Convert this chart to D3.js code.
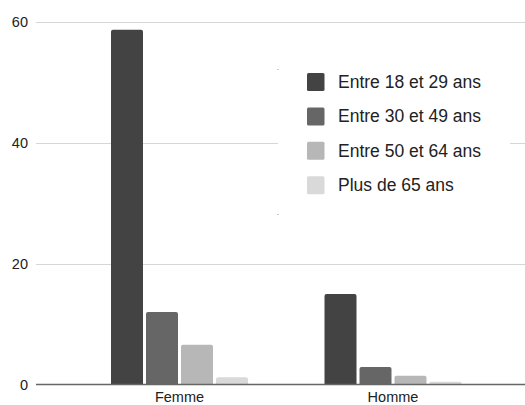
<!DOCTYPE html>
<html>
<head>
<meta charset="utf-8">
<script src="https://cdn.jsdelivr.net/npm/d3@7"></script>
<style>
  body { margin: 0; background: #fff; }
  text { font-family: "Liberation Sans", Arial, sans-serif; }
</style>
</head>
<body>
<div id="chart"></div>
<script>
// data
var groups = ["Femme", "Homme"];
var series = ["Entre 18 et 29 ans", "Entre 30 et 49 ans", "Entre 50 et 64 ans", "Plus de 65 ans"];
var femmeValues = [58.7, 12.0, 6.6, 1.2];
var hommeValues = [15.0, 2.9, 1.45, 0.45];
var yTicks = [0, 20, 40, 60];
var colors = ["#434343", "#666666", "#b7b7b7", "#d9d9d9"];

var rows = [
    {group: "Femme", values: femmeValues},
    {group: "Homme", values: hommeValues}
];

var width = 525, height = 405;

var svg = d3.select("#chart")
    .append("svg")
    .attr("width", width)
    .attr("height", height);

var y = d3.scaleLinear()
    .domain([0, 60])
    .range([384.5, 22]);

var x0 = d3.scaleBand()
    .domain(groups)
    .range([72.75, 499.75]);

var x1 = d3.scaleBand()
    .domain(series)
    .range([38.25, 175.25])
    .paddingInner(0.0857);

// gridlines
svg.append("g")
    .selectAll("line")
    .data(yTicks.filter(function(d) { return d > 0; }))
    .enter()
    .append("line")
    .attr("x1", 36)
    .attr("x2", width)
    .attr("y1", function(d) { return Math.round(y(d)) + 0.5; })
    .attr("y2", function(d) { return Math.round(y(d)) + 0.5; })
    .style("stroke", "#d6d6d6")
    .style("stroke-width", 1);

// y labels
svg.append("g")
    .selectAll("text")
    .data(yTicks)
    .enter()
    .append("text")
    .attr("x", 28)
    .attr("y", function(d) { return y(d) + 5; })
    .attr("text-anchor", "end")
    .style("font-size", "14.5px")
    .style("fill", "#222")
    .text(function(d) { return d; });

// bars
var groupsG = svg.selectAll(".grp")
    .data(rows)
    .enter()
    .append("g")
    .attr("class", "grp")
    .attr("transform", function(d) { return "translate(" + x0(d.group) + ",0)"; });

groupsG.selectAll("path")
    .data(function(d) {
        return d.values.map(function(v, i) { return {key: series[i], value: v, i: i}; });
    })
    .enter()
    .append("path")
    .attr("d", function(d) {
        var x = x1(d.key), w = x1.bandwidth();
        var top = y(d.value), bot = y(0);
        var r = Math.min(2, (bot - top) / 2);
        return "M" + x + "," + bot +
            "V" + (top + r) +
            "Q" + x + "," + top + " " + (x + r) + "," + top +
            "H" + (x + w - r) +
            "Q" + (x + w) + "," + top + " " + (x + w) + "," + (top + r) +
            "V" + bot + "Z";
    })
    .style("fill", function(d) { return colors[d.i]; });

// baseline
svg.append("line")
    .attr("x1", 36)
    .attr("x2", width)
    .attr("y1", 384.5)
    .attr("y2", 384.5)
    .style("stroke", "#666")
    .style("stroke-width", 1.5);

// x labels
svg.append("g")
    .selectAll("text")
    .data(groups)
    .enter()
    .append("text")
    .attr("x", function(d) { return x0(d) + x0.bandwidth() / 2; })
    .attr("y", 402)
    .attr("text-anchor", "middle")
    .style("font-size", "14.5px")
    .style("fill", "#222")
    .text(function(d) { return d; });

// legend box (white, hides the gridline behind it)
svg.append("rect")
    .attr("x", 278)
    .attr("y", 69)
    .attr("width", 232)
    .attr("height", 146)
    .style("fill", "#fff");

// faint corner marks
svg.selectAll(".mark")
    .data([69, 214])
    .enter()
    .append("rect")
    .attr("class", "mark")
    .attr("x", 277)
    .attr("y", function(d) { return d; })
    .attr("width", 2)
    .attr("height", 1)
    .style("fill", "#ccc");

var legend = svg.selectAll(".leg")
    .data(series)
    .enter()
    .append("g")
    .attr("class", "leg")
    .attr("transform", function(d, i) { return "translate(307," + (73 + i * 34.4) + ")"; });

legend.append("rect")
    .attr("width", 17.5)
    .attr("height", 18)
    .attr("rx", 1.5)
    .style("fill", function(d, i) { return colors[i]; });

legend.append("text")
    .attr("x", 31)
    .attr("y", 15)
    .style("font-size", "17.5px")
    .style("fill", "#222")
    .text(function(d) { return d; });
</script>
</body>
</html>
